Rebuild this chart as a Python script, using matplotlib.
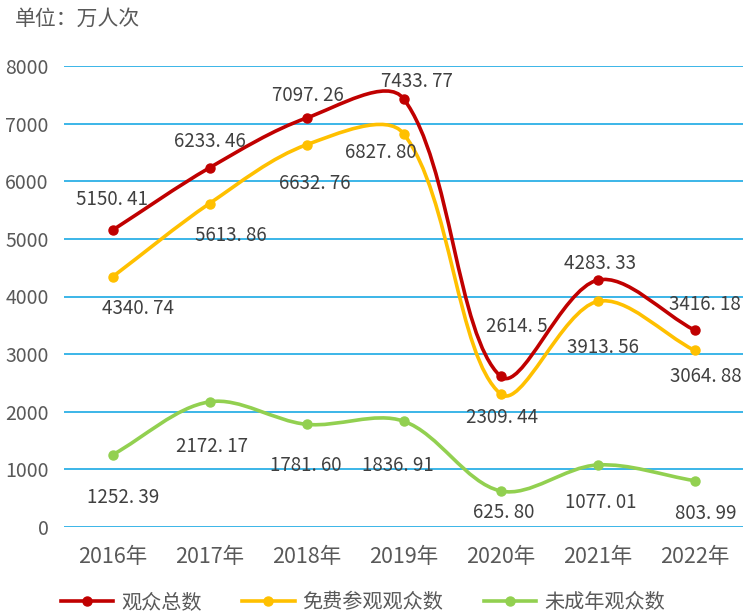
import numpy as np
import matplotlib
matplotlib.use('Agg')
import matplotlib.pyplot as plt
from matplotlib.path import Path
from matplotlib.patches import PathPatch
from matplotlib.lines import Line2D

plt.rcParams['font.family'] = ['Noto Sans CJK SC', 'DejaVu Sans']

# 数据
years = ['2016年', '2017年', '2018年', '2019年', '2020年', '2021年', '2022年']
total = [5150.41, 6233.46, 7097.26, 7433.77, 2614.5, 4283.33, 3416.18]
free = [4340.74, 5613.86, 6632.76, 6827.80, 2309.44, 3913.56, 3064.88]
minor = [1252.39, 2172.17, 1781.60, 1836.91, 625.80, 1077.01, 803.99]
total_txt = ['5150.41', '6233.46', '7097.26', '7433.77', '2614.5', '4283.33', '3416.18']
free_txt = ['4340.74', '5613.86', '6632.76', '6827.80', '2309.44', '3913.56', '3064.88']
minor_txt = ['1252.39', '2172.17', '1781.60', '1836.91', '625.80', '1077.01', '803.99']
names = ['观众总数', '免费参观观众数', '未成年观众数']
colors = ['#C00000', '#FFC000', '#92D050']

# label offsets in pixels (dx, dy)
offsets = [
    [(0, 31), (0, 26), (1, 23), (13, 17), (16, 50), (3, 17), (10, 26)],
    [(25, -32), (21, -32), (8, -39), (-23, -19), (2, -24), (5, -46), (11, -26)],
    [(11, -43), (3, -45), (-1, -41), (-6, -44), (3, -22), (3, -38), (11, -33)],
]

W, H = 743, 614
fig = plt.figure(figsize=(W / 100, H / 100), dpi=100)
ax = fig.add_axes([64 / W, 1 - 527 / H, (743 - 64) / W, (527 - 66) / H])
x = np.arange(len(years))
ax.set_xlim(-0.5, 6.5)
ax.set_ylim(0, 8000)
ax.set_yticks(np.arange(0, 8001, 1000))
ax.set_xticks(x)
ax.set_xticklabels(years)
ax.grid(axis='y', color='#1AA9E4', lw=1.2)
ax.set_axisbelow(True)
for s in ax.spines.values():
    s.set_visible(False)
ax.tick_params(axis='y', length=0, pad=11, labelsize=14, labelcolor='#595959')
ax.tick_params(axis='x', length=0, pad=14, labelsize=15.5, labelcolor='#595959')


def smooth_path(xs, ys):
    # Excel-like smoothed line: cubic bezier, tangents weighted by segment length
    pts = ax.transData.transform(np.column_stack([xs, ys]))
    n = len(pts)
    verts = [pts[0]]
    codes = [Path.MOVETO]
    for i in range(n - 1):
        p0 = pts[i - 1] if i > 0 else pts[i]
        p1 = pts[i]
        p2 = pts[i + 1]
        p3 = pts[i + 2] if i + 2 < n else pts[i + 1]
        d01 = np.hypot(*(p1 - p0))
        d12 = np.hypot(*(p2 - p1))
        d23 = np.hypot(*(p3 - p2))
        c1 = p1 + (p2 - p0) * d12 / (d01 + d12) / 3
        c2 = p2 - (p3 - p1) * d12 / (d12 + d23) / 3
        verts += [c1, c2, p2]
        codes += [Path.CURVE4] * 3
    verts = ax.transData.inverted().transform(np.array(verts))
    return Path(verts, codes)


series = [(total, total_txt), (free, free_txt), (minor, minor_txt)]
for k in [2, 1, 0]:
    vals, txts = series[k]
    ax.add_patch(PathPatch(smooth_path(x, vals), fc='none', ec=colors[k],
                           lw=2.6, zorder=3 + (2 - k), capstyle='round'))
    ax.plot(x, vals, 'o', color=colors[k], ms=6.5, zorder=3.5 + (2 - k))
    for i, (v, t) in enumerate(zip(vals, txts)):
        ax.annotate(t.replace('.', '. '), xy=(x[i], v), xytext=offsets[k][i],
                    textcoords='offset pixels', ha='center', va='center',
                    fontsize=13.5, color='#404040', zorder=10)

fig.text(15 / W, 1 - 19 / H, '单位：万人次', fontsize=15, color='#595959',
         ha='left', va='center')

handles = [Line2D([], [], color=c, lw=2.6, marker='o', ms=6.5) for c in colors]
fig.legend(handles, names, loc='center', bbox_to_anchor=(363 / W, 1 - 603 / H),
           ncol=3, frameon=False, fontsize=14.5, handlelength=2.6,
           handletextpad=0.4, columnspacing=2.0, labelcolor='#595959')

fig.savefig('out.png', dpi=100)
